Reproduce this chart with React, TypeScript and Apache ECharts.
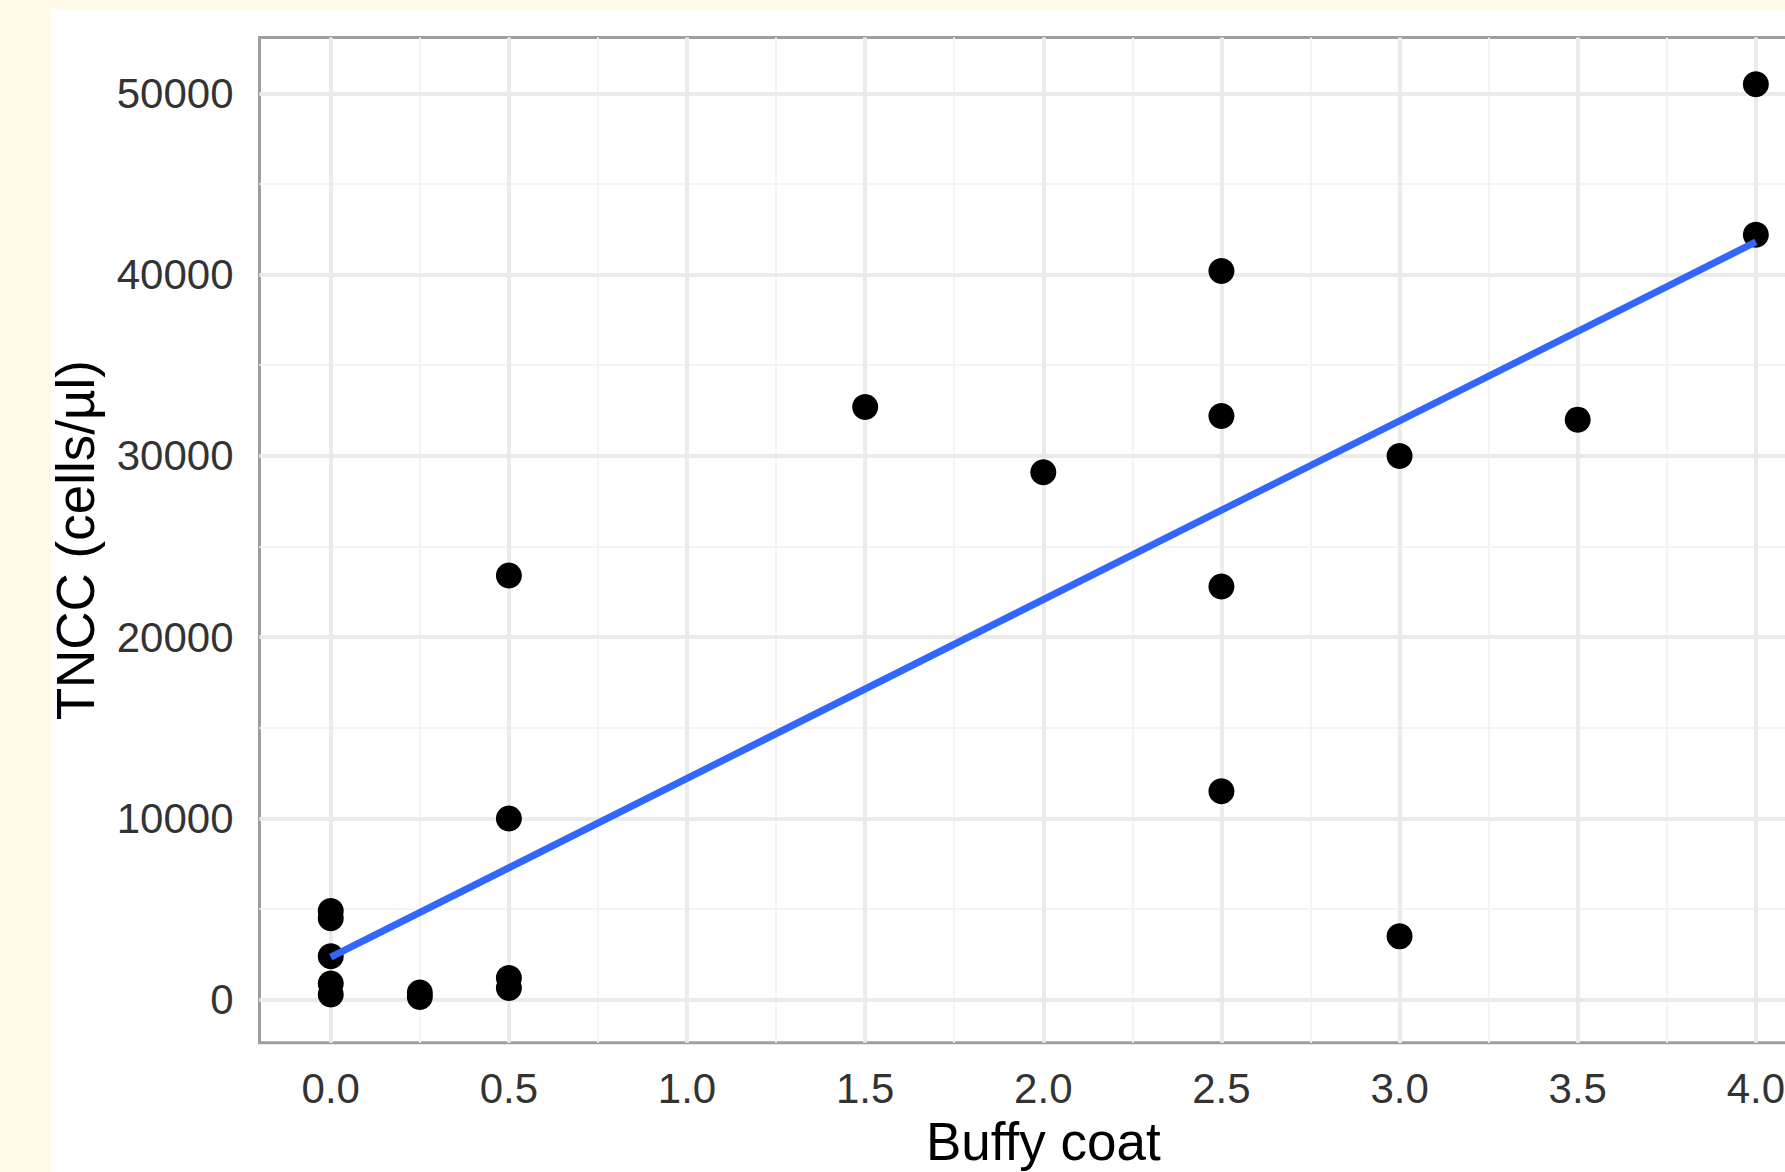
import React, { useEffect, useRef } from "react";
import * as echarts from "echarts";

// Data
const buffyCoat = [0, 0, 0, 0, 0, 0.25, 0.25, 0.5, 0.5, 0.5, 0.5, 1.5, 2.0, 2.5, 2.5, 2.5, 2.5, 3.0, 3.0, 3.5, 4.0, 4.0];
const tncc = [4900, 4500, 2400, 900, 300, 400, 150, 1200, 650, 10000, 23400, 32700, 29100, 40200, 32200, 22800, 11500, 30000, 3500, 32000, 50500, 42200];

// Linear fit end points
const fitX = [0, 4];
const fitY = [2350, 41800];

// Axis ticks
const xTicks = [0, 0.5, 1, 1.5, 2, 2.5, 3, 3.5, 4];
const xMinor = [0.25, 0.75, 1.25, 1.75, 2.25, 2.75, 3.25, 3.75];
const yTicks = [0, 10000, 20000, 30000, 40000, 50000];
const yMinor = [5000, 15000, 25000, 35000, 45000];
const xRange = [-0.2, 4.2];
const yRange = [-2370, 53070];

const xTitle = "Buffy coat";
const yTitle = "TNCC (cells/µl)";

export default function App() {
  const ref = useRef<HTMLDivElement>(null);

  useEffect(() => {
    if (!ref.current) return;
    const chart = echarts.init(ref.current, null, { renderer: "svg" });
    const font = "'Liberation Sans', Arial, Helvetica, sans-serif";
    const major = { color: "#EBEBEB", width: 4, type: "solid" };
    const minor = { color: "#F4F4F4", width: 2, type: "solid" };
    const gridLines = [
      ...xMinor.map((v) => ({ xAxis: v, lineStyle: minor })),
      ...yMinor.map((v) => ({ yAxis: v, lineStyle: minor })),
      ...xTicks.map((v) => ({ xAxis: v, lineStyle: major })),
      ...yTicks.map((v) => ({ yAxis: v, lineStyle: major })),
    ];
    const points = buffyCoat.map((x, i) => [x, tncc[i]]);
    const fit = fitX.map((x, i) => [x, fitY[i]]);

    chart.setOption({
      animation: false,
      backgroundColor: "transparent",
      grid: {
        left: 259.5,
        top: 37.6,
        width: 1567.6,
        height: 1005.2,
        show: true,
        containLabel: false,
        outerBoundsMode: "none",
        backgroundColor: "transparent",
        borderColor: "#9E9E9E",
        borderWidth: 3,
      },
      xAxis: {
        type: "value",
        min: xRange[0],
        max: xRange[1],
        name: xTitle,
        nameLocation: "middle",
        nameGap: 72,
        nameTextStyle: { fontFamily: font, fontSize: 53, color: "#000000" },
        axisLine: { show: false },
        axisTick: {
          show: true,
          length: 13,
          customValues: xTicks,
          lineStyle: { color: "#333333", width: 4 },
        },
        axisLabel: {
          customValues: xTicks,
          margin: 25,
          fontFamily: font,
          fontSize: 42,
          color: "#333333",
          hideOverlap: false,
          formatter: (v: number) => v.toFixed(1),
        },
        splitLine: { show: false },
      },
      yAxis: {
        type: "value",
        min: yRange[0],
        max: yRange[1],
        name: yTitle,
        nameLocation: "middle",
        nameGap: 158,
        nameTextStyle: { fontFamily: font, fontSize: 53, color: "#000000" },
        axisLine: { show: false },
        axisTick: {
          show: true,
          length: 13,
          customValues: yTicks,
          lineStyle: { color: "#333333", width: 4 },
        },
        axisLabel: {
          customValues: yTicks,
          margin: 26,
          fontFamily: font,
          fontSize: 42,
          color: "#333333",
          formatter: (v: number) => String(v),
        },
        splitLine: { show: false },
      },
      series: [
        {
          type: "scatter",
          data: points,
          symbol: "circle",
          symbolSize: 26,
          itemStyle: { color: "#000000", opacity: 1 },
          z: 2,
          silent: true,
          markLine: {
            z: 1,
            silent: true,
            symbol: ["none", "none"],
            label: { show: false },
            emphasis: { disabled: true },
            animation: false,
            data: gridLines,
          },
        },
        {
          type: "line",
          data: fit,
          showSymbol: false,
          symbol: "none",
          lineStyle: { color: "#3366FF", width: 7 },
          z: 3,
          silent: true,
        },
      ],
    });
    return () => chart.dispose();
  }, []);

  return (
    <div
      style={{
        position: "fixed",
        left: 0,
        top: 0,
        width: 1785,
        height: 1172,
        background: "#FFFBE8",
        overflow: "hidden",
      }}
    >
      <div
        style={{
          position: "absolute",
          left: 51,
          top: 9,
          width: 1734,
          height: 1163,
          background: "#FFFFFF",
        }}
      />
      <div
        ref={ref}
        style={{
          position: "absolute",
          left: 0,
          top: 0,
          width: 1785,
          height: 1172,
        }}
      />
    </div>
  );
}
